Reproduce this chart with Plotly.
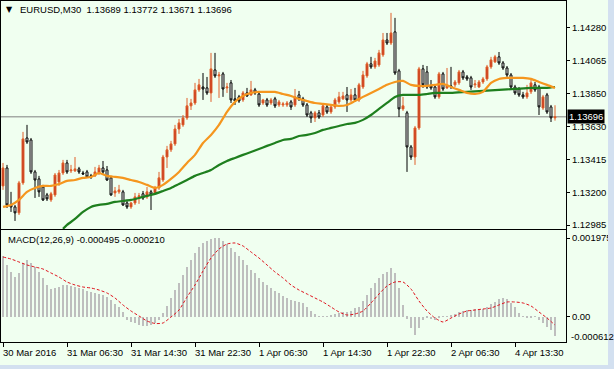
import plotly.graph_objects as go

# ---------------- data ----------------
open_ = [1.13242, 1.13360, 1.13117, 1.13104, 1.13065, 1.13262, 1.13557, 1.13544, 1.13334, 1.13288,
         1.13235, 1.13183, 1.13150, 1.13183, 1.13268, 1.13327, 1.13393, 1.13341, 1.13341, 1.13354,
         1.13327, 1.13334, 1.13308, 1.13308, 1.13327, 1.13360, 1.13347, 1.13295, 1.13196, 1.13203,
         1.13203, 1.13130, 1.13104, 1.13130, 1.13170, 1.13190, 1.13170, 1.13203, 1.13196, 1.13229,
         1.13281, 1.13432, 1.13479, 1.13518, 1.13616, 1.13643, 1.13689, 1.13768, 1.13787, 1.13873,
         1.13892, 1.13886, 1.13853, 1.14004, 1.13965, 1.13978, 1.13886, 1.13919, 1.13814, 1.13827,
         1.13807, 1.13853, 1.13840, 1.13873, 1.13846, 1.13787, 1.13807, 1.13787, 1.13814, 1.13774,
         1.13774, 1.13774, 1.13794, 1.13774, 1.13840, 1.13814, 1.13774, 1.13722, 1.13689, 1.13722,
         1.13708, 1.13761, 1.13728, 1.13761, 1.13794, 1.13814, 1.13840, 1.13807, 1.13840, 1.13807,
         1.13892, 1.13965, 1.14044, 1.14024, 1.14037, 1.14103, 1.14201, 1.14181, 1.14254, 1.13998,
         1.13748, 1.13722, 1.13498, 1.13432, 1.13623, 1.14011, 1.13991, 1.13899, 1.13892, 1.13827,
         1.13978, 1.13886, 1.13899, 1.13906, 1.13919, 1.13991, 1.13958, 1.13952, 1.13906, 1.13892,
         1.13925, 1.13945, 1.14024, 1.14057, 1.14090, 1.14050, 1.14017, 1.13971, 1.13892, 1.13879,
         1.13840, 1.13827, 1.13860, 1.13906, 1.13892, 1.13754, 1.13840, 1.13761, 1.13689]

high = [1.13393, 1.13380, 1.13203, 1.13117, 1.13275, 1.13597, 1.13643, 1.13557, 1.13347, 1.13308,
        1.13249, 1.13196, 1.13203, 1.13327, 1.13347, 1.13413, 1.13413, 1.13380, 1.13432, 1.13367,
        1.13341, 1.13347, 1.13321, 1.13367, 1.13380, 1.13406, 1.13373, 1.13308, 1.13235, 1.13249,
        1.13216, 1.13143, 1.13137, 1.13196, 1.13196, 1.13209, 1.13235, 1.13216, 1.13242, 1.13334,
        1.13446, 1.13505, 1.13538, 1.13643, 1.13682, 1.13708, 1.13820, 1.13814, 1.13919, 1.13945,
        1.13984, 1.13958, 1.14116, 1.14116, 1.13991, 1.13991, 1.13919, 1.13938, 1.13873, 1.13840,
        1.13866, 1.13886, 1.13932, 1.13886, 1.13860, 1.13814, 1.13820, 1.13820, 1.13827, 1.13807,
        1.13794, 1.13800, 1.13807, 1.13879, 1.13866, 1.13827, 1.13787, 1.13735, 1.13735, 1.13741,
        1.13781, 1.13774, 1.13774, 1.13820, 1.13860, 1.13860, 1.13892, 1.13879, 1.13886, 1.13919,
        1.13998, 1.14057, 1.14090, 1.14083, 1.14136, 1.14247, 1.14247, 1.14379, 1.14346, 1.14011,
        1.13827, 1.13735, 1.13511, 1.13636, 1.14024, 1.14037, 1.14030, 1.13938, 1.13906, 1.13991,
        1.13991, 1.14017, 1.14024, 1.13938, 1.14004, 1.14004, 1.13971, 1.13965, 1.13938, 1.13938,
        1.13958, 1.14037, 1.14090, 1.14103, 1.14122, 1.14063, 1.14030, 1.13984, 1.13906, 1.13892,
        1.13860, 1.13906, 1.13938, 1.13925, 1.13906, 1.13840, 1.13853, 1.13774, 1.13772]

low = [1.13216, 1.13097, 1.13071, 1.13012, 1.13051, 1.13249, 1.13518, 1.13321, 1.13163, 1.13170,
       1.13143, 1.13143, 1.13137, 1.13170, 1.13242, 1.13314, 1.13321, 1.13327, 1.13334, 1.13321,
       1.13314, 1.13295, 1.13288, 1.13301, 1.13314, 1.13321, 1.13275, 1.13177, 1.13170, 1.13190,
       1.13111, 1.13091, 1.13091, 1.13117, 1.13124, 1.13150, 1.13157, 1.13084, 1.13183, 1.13216,
       1.13268, 1.13360, 1.13465, 1.13505, 1.13584, 1.13630, 1.13676, 1.13741, 1.13774, 1.13860,
       1.13807, 1.13840, 1.13794, 1.13952, 1.13820, 1.13827, 1.13853, 1.13787, 1.13774, 1.13787,
       1.13794, 1.13827, 1.13833, 1.13840, 1.13761, 1.13774, 1.13761, 1.13774, 1.13754, 1.13761,
       1.13761, 1.13761, 1.13741, 1.13761, 1.13800, 1.13761, 1.13695, 1.13656, 1.13662, 1.13682,
       1.13695, 1.13715, 1.13715, 1.13748, 1.13781, 1.13807, 1.13728, 1.13794, 1.13794, 1.13794,
       1.13879, 1.13952, 1.14011, 1.14011, 1.14024, 1.14090, 1.14168, 1.14168, 1.13971, 1.13695,
       1.13735, 1.13334, 1.13413, 1.13380, 1.13610, 1.13886, 1.13879, 1.13873, 1.13814, 1.13814,
       1.13866, 1.13879, 1.13879, 1.13892, 1.13906, 1.13938, 1.13932, 1.13873, 1.13886, 1.13886,
       1.13912, 1.13932, 1.14011, 1.14050, 1.14037, 1.14004, 1.13958, 1.13879, 1.13840, 1.13827,
       1.13814, 1.13814, 1.13846, 1.13860, 1.13708, 1.13741, 1.13715, 1.13662, 1.13671]

close = [1.13360, 1.13117, 1.13104, 1.13065, 1.13262, 1.13551, 1.13531, 1.13334, 1.13281, 1.13203,
         1.13150, 1.13157, 1.13190, 1.13314, 1.13327, 1.13393, 1.13334, 1.13347, 1.13354, 1.13334,
         1.13321, 1.13301, 1.13301, 1.13334, 1.13360, 1.13334, 1.13281, 1.13183, 1.13209, 1.13216,
         1.13117, 1.13104, 1.13130, 1.13170, 1.13177, 1.13163, 1.13203, 1.13183, 1.13229, 1.13295,
         1.13432, 1.13479, 1.13518, 1.13616, 1.13656, 1.13689, 1.13768, 1.13787, 1.13873, 1.13906,
         1.13879, 1.13853, 1.14011, 1.13965, 1.13971, 1.13879, 1.13892, 1.13807, 1.13800, 1.13800,
         1.13853, 1.13833, 1.13873, 1.13853, 1.13774, 1.13807, 1.13774, 1.13807, 1.13768, 1.13794,
         1.13781, 1.13787, 1.13761, 1.13827, 1.13814, 1.13774, 1.13708, 1.13689, 1.13722, 1.13695,
         1.13768, 1.13728, 1.13761, 1.13807, 1.13827, 1.13833, 1.13807, 1.13840, 1.13807, 1.13906,
         1.13971, 1.14044, 1.14024, 1.14063, 1.14116, 1.14201, 1.14181, 1.14247, 1.13984, 1.13748,
         1.13768, 1.13498, 1.13432, 1.13623, 1.14011, 1.13906, 1.13892, 1.13886, 1.13827, 1.13978,
         1.13879, 1.13899, 1.13892, 1.13925, 1.13991, 1.13952, 1.13945, 1.13892, 1.13912, 1.13925,
         1.13945, 1.14024, 1.14070, 1.14090, 1.14050, 1.14017, 1.13971, 1.13892, 1.13853, 1.13840,
         1.13827, 1.13853, 1.13919, 1.13873, 1.13761, 1.13827, 1.13728, 1.13689, 1.13696]

bars = list(range(len(close)))

# fast moving average (orange), sampled every 2 bars
ma_fast_x = list(range(0, 139, 2))
ma_fast = [1.13104, 1.13117, 1.13150, 1.13203, 1.13229, 1.13242, 1.13242, 1.13255, 1.13275, 1.13281,
           1.13295, 1.13301, 1.13327, 1.13308, 1.13301, 1.13295, 1.13281, 1.13268, 1.13249, 1.13229,
           1.13249, 1.13288, 1.13334, 1.13393, 1.13446, 1.13524, 1.13577, 1.13643, 1.13728, 1.13794,
           1.13833, 1.13853, 1.13860, 1.13860, 1.13860, 1.13846, 1.13833, 1.13814, 1.13800, 1.13787,
           1.13781, 1.13774, 1.13768, 1.13774, 1.13800, 1.13827, 1.13853, 1.13879, 1.13906, 1.13925,
           1.13932, 1.13906, 1.13899, 1.13899, 1.13906, 1.13912, 1.13892, 1.13873, 1.13853, 1.13846,
           1.13860, 1.13919, 1.13945, 1.13952, 1.13952, 1.13952, 1.13945, 1.13925, 1.13906, 1.13886]

# slow moving average (green)
ma_slow_x = [15, 16, 18, 20, 22, 24, 26, 28, 30, 32, 34, 36, 38, 40, 42, 44, 46, 48, 50, 52, 54, 56,
             58, 60, 62, 64, 66, 68, 70, 72, 74, 76, 78, 80, 82, 84, 86, 88, 90, 92, 94, 96, 98, 100,
             102, 104, 106, 108, 112, 116, 120, 124, 128, 132, 136, 138]
ma_slow = [1.12960, 1.12986, 1.13025, 1.13071, 1.13104, 1.13117, 1.13124, 1.13137, 1.13143, 1.13150,
           1.13163, 1.13177, 1.13190, 1.13209, 1.13229, 1.13255, 1.13281, 1.13308, 1.13327, 1.13347,
           1.13380, 1.13406, 1.13426, 1.13446, 1.13465, 1.13485, 1.13505, 1.13524, 1.13544, 1.13551,
           1.13570, 1.13577, 1.13590, 1.13610, 1.13623, 1.13636, 1.13649, 1.13656, 1.13676, 1.13708,
           1.13748, 1.13787, 1.13827, 1.13840, 1.13840, 1.13840, 1.13846, 1.13853, 1.13853, 1.13860,
           1.13866, 1.13873, 1.13879, 1.13886, 1.13886, 1.13892]

# MACD histogram (one value per bar)
macd_hist = [0.001523, 0.001297, 0.001130, 0.000988, 0.001105, 0.001339, 0.001423, 0.001356, 0.001256, 0.001130,
             0.000963, 0.000795, 0.000695, 0.000711, 0.000753, 0.000795, 0.000795, 0.000770, 0.000753, 0.000728,
             0.000695, 0.000653, 0.000628, 0.000586, 0.000569, 0.000544, 0.000502, 0.000419, 0.000310, 0.000234,
             0.000126, -0.000084, -0.000126, -0.000167, -0.000209, -0.000234, -0.000234, -0.000209, -0.000151, -0.000084,
             0.000084, 0.000268, 0.000460, 0.000670, 0.000854, 0.001046, 0.001256, 0.001423, 0.001590, 0.001741,
             0.001841, 0.001908, 0.001942, 0.001975, 0.001967, 0.001908, 0.001825, 0.001716, 0.001632, 0.001523,
             0.001423, 0.001297, 0.001172, 0.001088, 0.000963, 0.000879, 0.000795, 0.000711, 0.000653, 0.000586,
             0.000519, 0.000460, 0.000419, 0.000393, 0.000377, 0.000335, 0.000234, 0.000151, 0.000067, 0.000005,
             0.000017, 0.000017, 0.000042, 0.000059, 0.000100, 0.000126, 0.000126, 0.000151, 0.000209, 0.000251,
             0.000402, 0.000544, 0.000711, 0.000837, 0.000963, 0.001071, 0.001130, 0.001214, 0.001088, 0.000711,
             0.000293, -0.000050, -0.000293, -0.000460, -0.000293, -0.000084, -0.000042, -0.000067, -0.000084, -0.000042,
             0.000005, 0.000017, 0.000042, 0.000067, 0.000126, 0.000151, 0.000167, 0.000167, 0.000184, 0.000167,
             0.000184, 0.000234, 0.000318, 0.000377, 0.000435, 0.000460, 0.000435, 0.000352, 0.000234, 0.000100,
             0.000005, -0.000017, -0.000017, 0.000005, -0.000084, -0.000167, -0.000268, -0.000335, -0.000495]

# MACD signal line, sampled every 2 bars
signal_x = list(range(0, 139, 2))
signal = [0.001498, 0.001448, 0.001373, 0.001298, 0.001247, 0.001197, 0.001097, 0.000996, 0.000871, 0.000796,
          0.000745, 0.000720, 0.000670, 0.000595, 0.000469, 0.000294, 0.000143, 0.000018, -0.000108, -0.000171,
          -0.000158, -0.000008, 0.000168, 0.000494, 0.000796, 0.001147, 0.001473, 0.001699, 0.001825, 0.001850,
          0.001775, 0.001624, 0.001473, 0.001298, 0.001122, 0.000971, 0.000796, 0.000670, 0.000570, 0.000469,
          0.000369, 0.000243, 0.000118, 0.000043, 0.000068, 0.000143, 0.000344, 0.000570, 0.000771, 0.000871,
          0.000871, 0.000695, 0.000394, 0.000143, -0.000033, -0.000133, -0.000033, 0.000068, 0.000143, 0.000168,
          0.000193, 0.000218, 0.000294, 0.000369, 0.000369, 0.000344, 0.000269, 0.000118, -0.000033, -0.000210]

price_ticks = [1.14280, 1.14065, 1.13850, 1.13630, 1.13415, 1.13200, 1.12985]
price_tick_text = ["1.14280", "1.14065", "1.13850", "1.13630", "1.13415", "1.13200", "1.12985"]
time_tick_bars = [0, 16, 32, 48, 64, 80, 96, 112, 128]
time_tick_text = ["30 Mar 2016", "31 Mar 06:30", "31 Mar 14:30", "31 Mar 22:30", "1 Apr 06:30",
                  "1 Apr 14:30", "1 Apr 22:30", "2 Apr 06:30", "4 Apr 13:30"]
macd_ticks = [0.001975, 0.0]
macd_tick_text = ["0.001975", "0.00"]
last_price = 1.13696
header = "EURUSD,M30  1.13689 1.13772 1.13671 1.13696"
macd_title = "MACD(12,26,9) -0.000495 -0.000210"

# ---------------- layout helpers ----------------
W, H = 614, 369
def px(x):
    return x / W
def py(y):
    return 1 - y / H

FONT = "Liberation Sans, Arial, sans-serif"
BG = "#F0FFF0"

fig = go.Figure()

fig.add_trace(go.Candlestick(
    x=bars, open=open_, high=high, low=low, close=close,
    increasing=dict(line=dict(color="#E0602A", width=1), fillcolor="#C0301C"),
    decreasing=dict(line=dict(color="#000000", width=1), fillcolor="#FFFFFF"),
    whiskerwidth=0, showlegend=False, hoverinfo="skip", xaxis="x", yaxis="y"))

fig.add_trace(go.Scatter(x=ma_slow_x, y=ma_slow, mode="lines",
                         line=dict(color="#1E7F1E", width=2.2, shape="spline", smoothing=0.6),
                         showlegend=False, hoverinfo="skip", xaxis="x", yaxis="y"))
fig.add_trace(go.Scatter(x=ma_fast_x, y=ma_fast, mode="lines",
                         line=dict(color="#F5961E", width=2.2, shape="spline", smoothing=0.6),
                         showlegend=False, hoverinfo="skip", xaxis="x", yaxis="y"))

fig.add_trace(go.Bar(x=bars, y=macd_hist, width=0.22, marker=dict(color="#BEBEBE", line=dict(width=0)),
                     showlegend=False, hoverinfo="skip", xaxis="x2", yaxis="y2"))
fig.add_trace(go.Scatter(x=signal_x, y=signal, mode="lines",
                         line=dict(color="#E0141E", width=1, dash="3px,2px", shape="spline", smoothing=0.6),
                         showlegend=False, hoverinfo="skip", xaxis="x2", yaxis="y2"))

xr = [-0.5, 140.75]
common_x = dict(range=xr, showgrid=False, zeroline=False, showline=True, mirror=True,
                linecolor="black", linewidth=1, fixedrange=True)
common_y = dict(side="right", showgrid=False, zeroline=False, showline=True, mirror=True,
                linecolor="black", linewidth=1, ticks="outside", ticklen=3, tickcolor="black",
                tickfont=dict(family=FONT, size=9.5, color="black"), tickmode="array")

fig.update_layout(
    width=W, height=H, margin=dict(l=0, r=0, t=0, b=0),
    paper_bgcolor=BG, plot_bgcolor=BG, showlegend=False, bargap=0,
    xaxis=dict(domain=[px(1), px(566)], anchor="y", showticklabels=False, ticks="",
               rangeslider=dict(visible=False), **common_x),
    yaxis=dict(domain=[py(229), py(1)], anchor="x", range=[1.12959, 1.14457],
               tickvals=price_ticks, ticktext=price_tick_text, **common_y),
    xaxis2=dict(domain=[px(1), px(566)], anchor="y2", showticklabels=False, ticks="outside",
                ticklen=4, tickcolor="black", tickmode="array", tickvals=time_tick_bars, **common_x),
    yaxis2=dict(domain=[py(342), py(230)], anchor="x2", range=[-0.000635, 0.002176],
                tickvals=macd_ticks, ticktext=macd_tick_text, **common_y),
)

# bid line
fig.add_shape(type="line", xref="paper", yref="y", x0=px(1), x1=px(566), y0=last_price, y1=last_price,
              line=dict(color="#808080", width=1), layer="below")

annotations = [
    dict(text="▼", x=px(4), y=py(9), xref="paper", yref="paper", xanchor="left", yanchor="middle",
         showarrow=False, font=dict(family="DejaVu Sans", size=8, color="black")),
    dict(text=header, x=px(18), y=py(9), xref="paper", yref="paper", xanchor="left", yanchor="middle",
         showarrow=False, font=dict(family=FONT, size=9.5, color="black")),
    dict(text=macd_title, x=px(6), y=py(239), xref="paper", yref="paper", xanchor="left", yanchor="middle",
         showarrow=False, font=dict(family=FONT, size=9.5, color="black")),
    dict(text="%.5f" % last_price, x=px(567), y=last_price, xref="paper", yref="y", xanchor="left",
         yanchor="middle", showarrow=False, bgcolor="black", borderpad=1,
         font=dict(family=FONT, size=9.5, color="white")),
    dict(text="-0.000612", x=px(569), y=py(336), xref="paper", yref="paper", xanchor="left",
         yanchor="middle", showarrow=False, font=dict(family=FONT, size=9.5, color="black")),
]
for b, t in zip(time_tick_bars, time_tick_text):
    annotations.append(dict(text=t, x=b, y=py(352), xref="x2", yref="paper", xanchor="left",
                            yanchor="middle", showarrow=False, xshift=-2,
                            font=dict(family=FONT, size=9.5, color="black")))
fig.update_layout(annotations=annotations)

# window frame strips
fig.add_shape(type="rect", xref="paper", yref="paper", x0=px(608), x1=1, y0=0, y1=1,
              fillcolor="#D3E0F0", line=dict(width=0), layer="above")
fig.add_shape(type="rect", xref="paper", yref="paper", x0=0, x1=1, y0=0, y1=py(365),
              fillcolor="#D3E0F0", line=dict(width=0), layer="above")

fig.write_html("out.html")
